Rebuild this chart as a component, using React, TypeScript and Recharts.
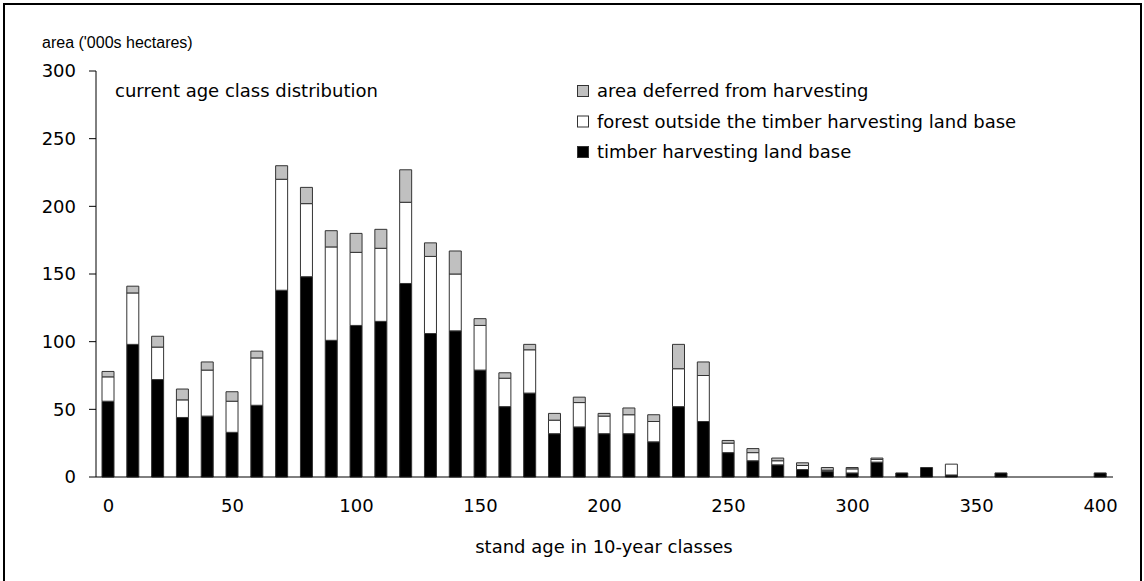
import { BarChart, Bar, XAxis, YAxis } from "recharts";

// stand age classes, 10-year steps
const ageClasses = [
  0, 10, 20, 30, 40, 50, 60, 70, 80, 90, 100, 110, 120, 130, 140, 150, 160, 170,
  180, 190, 200, 210, 220, 230, 240, 250, 260, 270, 280, 290, 300, 310, 320, 330,
  340, 350, 360, 370, 380, 390, 400,
];

// area in '000s hectares
const timberLandBase = [
  56, 98, 72, 44, 45, 33, 53, 138, 148, 101, 112, 115, 143, 106, 108, 79, 52, 62,
  32, 37, 32, 32, 26, 52, 41, 18, 12, 9, 5.5, 4, 3, 11, 3, 7, 1.5, 0, 3, 0, 0, 0, 3,
];
const outsideLandBase = [
  18, 38, 24, 13, 34, 23, 35, 82, 54, 69, 54, 54, 60, 57, 42, 33, 21, 32, 10, 18,
  13, 14, 15, 28, 34, 7, 6, 3, 3, 1, 3, 2, 0, 0, 8, 0, 0, 0, 0, 0, 0,
];
const deferredArea = [
  4, 5, 8, 8, 6, 7, 5, 10, 12, 12, 14, 14, 24, 10, 17, 5, 4, 4, 5, 4, 2, 5, 5, 18,
  10, 2, 3, 2, 2, 2, 1, 1, 0, 0, 0, 0, 0, 0, 0, 0, 0,
];

const yTicks = [0, 50, 100, 150, 200, 250, 300];

const series = [
  { key: "deferred", name: "area deferred from harvesting", fill: "#c0c0c0" },
  { key: "outside", name: "forest outside the timber harvesting land base", fill: "#ffffff" },
  { key: "timber", name: "timber harvesting land base", fill: "#000000" },
];

const rows = ageClasses.map((age, i) => ({
  age: String(age),
  timber: timberLandBase[i],
  outside: outsideLandBase[i],
  deferred: deferredArea[i],
}));

const FONT = "DejaVu Sans";
const tickStyle = { fill: "#000", fontSize: 18, fontFamily: FONT };
const barStroke = "#333";

export default function App() {
  // stacking goes bottom-up: timber, outside, deferred
  const stackOrder = [series[2], series[1], series[0]];

  return (
    <div
      style={{
        position: "absolute",
        left: 0,
        top: 0,
        width: 1144,
        height: 581,
        overflow: "hidden",
        background: "#fff",
      }}
    >
      <div
        style={{
          position: "absolute",
          left: 3,
          top: 3,
          width: 1139,
          height: 640,
          border: "2px solid #000",
          boxSizing: "border-box",
        }}
      />
      <BarChart
        width={1144}
        height={581}
        data={rows}
        margin={{ top: 71, right: 31, bottom: 44, left: 16 }}
      >
        <XAxis
          dataKey="age"
          interval={4}
          height={60}
          tickLine={false}
          tickSize={6}
          tickMargin={16}
          axisLine={{ stroke: "#000" }}
          tick={tickStyle}
        />
        <YAxis
          type="number"
          domain={[0, 300]}
          ticks={yTicks}
          width={80}
          tickSize={7}
          tickMargin={13}
          axisLine={{ stroke: "#000" }}
          tickLine={{ stroke: "#000" }}
          tick={tickStyle}
        />
        {stackOrder.map((s) => (
          <Bar
            key={s.key}
            dataKey={s.key}
            name={s.name}
            stackId="area"
            barSize={12}
            fill={s.fill}
            stroke={barStroke}
            strokeWidth={1}
            isAnimationActive={false}
          />
        ))}
      </BarChart>
      <svg
        width={1144}
        height={581}
        style={{ position: "absolute", left: 0, top: 0, pointerEvents: "none" }}
      >
        <text x={42} y={48} fontFamily="Liberation Sans" fontSize={16} fill="#000">
          area ('000s hectares)
        </text>
        <text x={115} y={97} fontFamily={FONT} fontSize={18} fill="#000">
          current age class distribution
        </text>
        {series.map((s, i) => (
          <g key={s.key}>
            <rect
              x={577.5}
              y={85.5 + i * 30.5}
              width={11}
              height={11}
              fill={s.fill}
              stroke={barStroke}
            />
            <text x={597} y={97 + i * 30.5} fontFamily={FONT} fontSize={18} fill="#000">
              {s.name}
            </text>
          </g>
        ))}
        <text
          x={604}
          y={553}
          textAnchor="middle"
          fontFamily={FONT}
          fontSize={18}
          fill="#000"
        >
          stand age in 10-year classes
        </text>
      </svg>
    </div>
  );
}
